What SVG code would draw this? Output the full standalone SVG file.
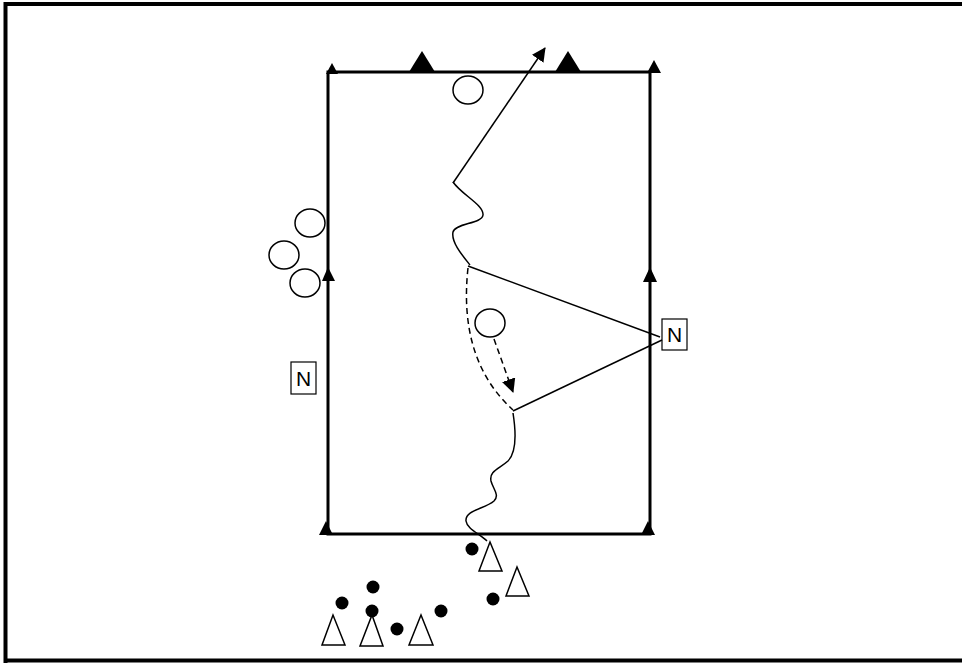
<svg xmlns="http://www.w3.org/2000/svg" width="962" height="663" viewBox="0 0 962 663">
<defs>
<style>
.frame{fill:none;stroke:#000;stroke-width:4}
.field{fill:none;stroke:#000;stroke-width:3}
.cone{fill:#000;stroke:none}
.pl{fill:#fff;stroke:#000;stroke-width:1.5}
.dot{fill:#000}
.tri{fill:#fff;stroke:#000;stroke-width:1.5}
.ln{fill:none;stroke:#000;stroke-width:1.5}
.dash{fill:none;stroke:#000;stroke-width:1.5;stroke-dasharray:6 4}
.box{fill:#fff;stroke:#000;stroke-width:1.2}
.lbl{font-family:"Liberation Sans",Arial,sans-serif;font-size:21px;fill:#000;text-anchor:middle}
</style>
<marker id="ah2" markerWidth="14" markerHeight="14" refX="13" refY="7" orient="auto" markerUnits="userSpaceOnUse" viewBox="0 0 14 14">
<path d="M0,0 L14,7 L0,14 z" fill="#000"/>
</marker>
</defs>
<rect width="962" height="663" fill="#fff"/>
<path class="frame" d="M5.5,663 V4 H962 M5.5,660.5 H962"/>
<g id="field">
<rect class="field" x="328" y="72" width="322" height="462"/>
</g>
<g id="cones">
<polygon class="cone" points="326,74 332,63 338,74"/>
<polygon class="cone" points="409,72 422,51 435,72"/>
<polygon class="cone" points="555,72 568,51 581,72"/>
<polygon class="cone" points="647,73 654,60 661,73"/>
<polygon class="cone" points="322,281 328,267 335,281"/>
<polygon class="cone" points="643,282 650,267 657,282"/>
<polygon class="cone" points="319,535 326,521 333,535"/>
<polygon class="cone" points="641,535 648,521 655,535"/>
</g>
<g id="players-open">
<ellipse class="pl" cx="468" cy="90" rx="15" ry="14"/>
<ellipse class="pl" cx="310" cy="223" rx="15" ry="14"/>
<ellipse class="pl" cx="284" cy="255" rx="15" ry="14"/>
<ellipse class="pl" cx="305" cy="283" rx="15" ry="14"/>
<ellipse class="pl" cx="490" cy="323" rx="15" ry="14"/>
</g>
<g id="n-left">
<rect class="box" x="291" y="362" width="25" height="32"/>
<text class="lbl" x="303.5" y="386">N</text>
</g>
<g id="n-right">
<rect class="box" x="662" y="319" width="25" height="31"/>
<text class="lbl" x="674.5" y="342">N</text>
</g>
<g id="connectors">
<line class="ln" x1="453" y1="183" x2="545" y2="48" marker-end="url(#ah2)"/>
<path class="ln" d="M453,182 C462,195 484,205 483,215 C482,224 455,223 453,232 C451,242 462,255 470,265"/>
<line class="ln" x1="468" y1="266" x2="660" y2="337"/>
<line class="ln" x1="662" y1="340" x2="513" y2="411"/>
<path class="dash" d="M468,268 Q458,360 513,410"/>
<line class="dash" x1="494" y1="339" x2="513" y2="392" marker-end="url(#ah2)"/>
<path class="ln" d="M513,413 C516,432 517,452 508,461 C499,469 489,471 491,481 C493,489 500,495 494,501 C485,509 465,510 466,521 C467,529 480,534 487,541"/>
</g>
<g id="players-bottom">
<circle class="dot" cx="472" cy="549" r="6.5"/>
<circle class="dot" cx="493" cy="599" r="6.5"/>
<circle class="dot" cx="373" cy="587" r="6.5"/>
<circle class="dot" cx="342" cy="603" r="6.5"/>
<circle class="dot" cx="372" cy="611" r="6.5"/>
<circle class="dot" cx="441" cy="611" r="6.5"/>
<circle class="dot" cx="397" cy="629" r="6.5"/>
<polygon class="tri" points="479,571 490,542 502,571"/>
<polygon class="tri" points="506,596 517,567 529,596"/>
<polygon class="tri" points="322,645 333,615 345,645"/>
<polygon class="tri" points="360,646 372,615 383,646"/>
<polygon class="tri" points="409,645 421,615 433,645"/>
</g>
</svg>
